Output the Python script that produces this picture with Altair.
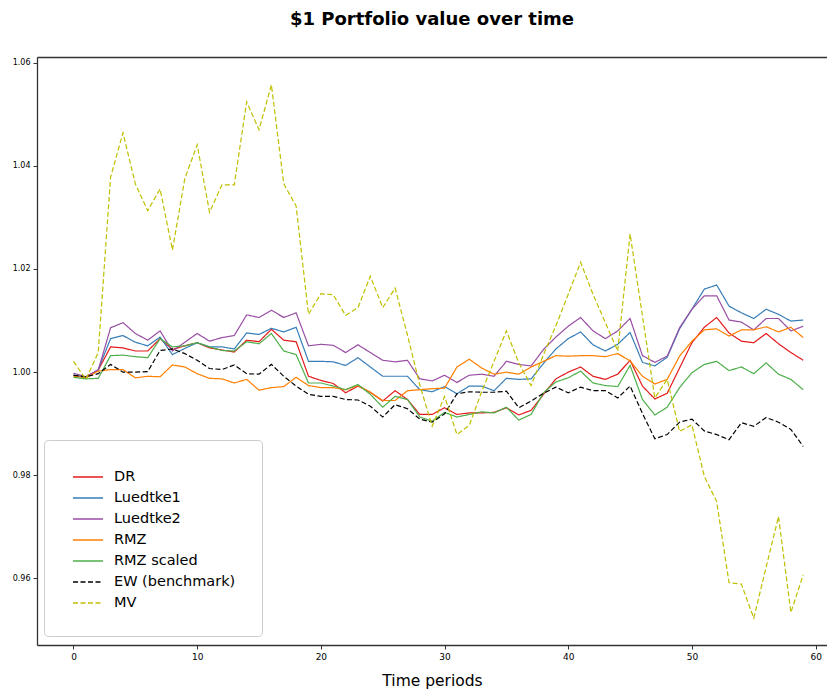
import altair as alt
import pandas as pd

t = list(range(60))

dr = [0.9994, 0.9991, 1.0004, 1.0049, 1.0047, 1.0041, 1.0041, 1.0065, 1.0044, 1.0051,
      1.0057, 1.0047, 1.0043, 1.0039, 1.0062, 1.0059, 1.0083, 1.0062, 1.0059, 0.9992,
      0.9984, 0.9978, 0.9960, 0.9973, 0.9961, 0.9944, 0.9964, 0.9947, 0.9918, 0.9918,
      0.9931, 0.9918, 0.9921, 0.9921, 0.9922, 0.9931, 0.9917, 0.9926, 0.9957, 0.9987,
      1.0000, 1.0010, 0.9992, 0.9986, 0.9996, 1.0023, 0.9973, 0.9948, 0.9959, 1.0008,
      1.0057, 1.0087, 1.0106, 1.0076, 1.0060, 1.0057, 1.0075, 1.0055, 1.0038, 1.0023]

luedtke1 = [0.9995, 0.9989, 1.0005, 1.0065, 1.0071, 1.0058, 1.0051, 1.0068, 1.0034, 1.0046,
            1.0057, 1.0049, 1.0049, 1.0045, 1.0076, 1.0073, 1.0085, 1.0078, 1.0087, 1.0021,
            1.0021, 1.0020, 1.0013, 1.0028, 1.0010, 0.9992, 0.9992, 0.9992, 0.9966, 0.9962,
            0.9972, 0.9958, 0.9973, 0.9973, 0.9964, 0.9988, 0.9986, 0.9987, 1.0017, 1.0045,
            1.0065, 1.0078, 1.0053, 1.0041, 1.0054, 1.0077, 1.0019, 1.0012, 1.0029, 1.0084,
            1.0122, 1.0161, 1.0169, 1.0128, 1.0115, 1.0104, 1.0122, 1.0112, 1.0099, 1.0101]

luedtke2 = [0.9998, 0.9991, 1.0004, 1.0086, 1.0096, 1.0075, 1.0062, 1.0080, 1.0041, 1.0058,
            1.0075, 1.0060, 1.0067, 1.0071, 1.0111, 1.0106, 1.0120, 1.0106, 1.0115, 1.0051,
            1.0054, 1.0052, 1.0038, 1.0053, 1.0038, 1.0023, 1.0020, 1.0023, 0.9987, 0.9983,
            0.9994, 0.9980, 0.9994, 0.9996, 0.9992, 1.0021, 1.0015, 1.0012, 1.0044, 1.0068,
            1.0089, 1.0106, 1.0080, 1.0065, 1.0080, 1.0104, 1.0032, 1.0019, 1.0031, 1.0086,
            1.0122, 1.0148, 1.0148, 1.0101, 1.0097, 1.0082, 1.0104, 1.0104, 1.0080, 1.0089]

rmz = [0.9992, 0.9989, 1.0002, 1.0005, 1.0005, 0.9989, 0.9992, 0.9991, 1.0014, 1.0010,
       0.9997, 0.9988, 0.9987, 0.9979, 0.9986, 0.9965, 0.9970, 0.9972, 0.9990, 0.9974,
       0.9970, 0.9970, 0.9966, 0.9974, 0.9961, 0.9945, 0.9945, 0.9964, 0.9966, 0.9968,
       0.9969, 1.0010, 1.0025, 1.0008, 0.9996, 1.0000, 0.9996, 1.0010, 1.0021, 1.0032,
       1.0031, 1.0032, 1.0032, 1.0030, 1.0036, 1.0022, 0.9992, 0.9977, 0.9986, 1.0031,
       1.0060, 1.0082, 1.0084, 1.0070, 1.0082, 1.0082, 1.0088, 1.0078, 1.0087, 1.0067]

rmz_scaled = [0.9990, 0.9987, 0.9988, 1.0032, 1.0033, 1.0030, 1.0028, 1.0065, 1.0049, 1.0051,
              1.0057, 1.0049, 1.0042, 1.0041, 1.0059, 1.0055, 1.0075, 1.0041, 1.0034, 0.9979,
              0.9979, 0.9973, 0.9966, 0.9976, 0.9957, 0.9932, 0.9953, 0.9947, 0.9913, 0.9905,
              0.9922, 0.9913, 0.9918, 0.9923, 0.9921, 0.9932, 0.9907, 0.9918, 0.9960, 0.9981,
              0.9989, 1.0002, 0.9979, 0.9974, 0.9972, 1.0013, 0.9947, 0.9917, 0.9932, 0.9970,
              0.9999, 1.0015, 1.0021, 1.0003, 1.0010, 0.9997, 1.0018, 0.9996, 0.9986, 0.9966]

ew = [0.9994, 0.9991, 0.9997, 1.0015, 1.0000, 1.0000, 1.0001, 1.0042, 1.0045, 1.0036,
      1.0023, 1.0007, 1.0005, 1.0014, 0.9997, 0.9996, 1.0015, 0.9992, 0.9973, 0.9957,
      0.9953, 0.9953, 0.9947, 0.9946, 0.9934, 0.9913, 0.9937, 0.9929, 0.9909, 0.9903,
      0.9919, 0.9958, 0.9962, 0.9961, 0.9961, 0.9963, 0.9931, 0.9944, 0.9959, 0.9971,
      0.9960, 0.9971, 0.9964, 0.9964, 0.9950, 0.9973, 0.9920, 0.9871, 0.9879, 0.9903,
      0.9909, 0.9886, 0.9879, 0.9869, 0.9902, 0.9895, 0.9912, 0.9903, 0.9889, 0.9856]

mv = [1.0021, 0.9986, 1.0038, 1.0378, 1.0464, 1.0365, 1.0313, 1.0355, 1.0237, 1.0375,
      1.0441, 1.0310, 1.0363, 1.0363, 1.0524, 1.0470, 1.0557, 1.0365, 1.0322, 1.0112,
      1.0152, 1.0150, 1.0110, 1.0125, 1.0186, 1.0125, 1.0163, 1.0072, 0.9975, 0.9895,
      0.9953, 0.9879, 0.9897, 0.9962, 1.0021, 1.0080, 1.0018, 0.9974, 1.0034, 1.0090,
      1.0151, 1.0213, 1.0151, 1.0096, 1.0041, 1.0268, 1.0109, 0.9950, 0.9986, 0.9885,
      0.9898, 0.9798, 0.9749, 0.9592, 0.9589, 0.9523, 0.9622, 0.9720, 0.9534, 0.9607]

series_names = ["DR", "Luedtke1", "Luedtke2", "RMZ", "RMZ scaled", "EW (benchmark)", "MV"]
series_values = [dr, luedtke1, luedtke2, rmz, rmz_scaled, ew, mv]
colors = ["#e41a1c", "#377eb8", "#984ea3", "#ff7f00", "#4daf4a", "#000000", "#bfbf00"]
dashes = [[1, 0], [1, 0], [1, 0], [1, 0], [1, 0], [5, 2.5], [5, 2.5]]
x_ticks = [0, 10, 20, 30, 40, 50, 60]
y_ticks = [0.96, 0.98, 1.00, 1.02, 1.04, 1.06]

rows = []
for k, (name, vals) in enumerate(zip(series_names, series_values)):
    for i, v in zip(t, vals):
        rows.append({"t": i, "value": v, "series": name, "k": k})
df = pd.DataFrame(rows)

x_scale = alt.Scale(domain=[-2.95, 60.92], nice=False, zero=False)
y_scale = alt.Scale(domain=[0.9471, 1.0611], nice=False, zero=False)

legend = alt.Legend(
    title=None, orient="none", legendX=7, legendY=383, padding=26,
    fillColor="white", strokeColor="#cccccc", cornerRadius=4,
    symbolType="M-1.5,0H1.5", symbolSize=400, symbolStrokeWidth=1.3,
    symbolOffset=7, labelOffset=15, labelFontSize=14.5, labelFont="DejaVu Sans",
    labelColor="black", rowPadding=3, labelLimit=300,
)

color = alt.Color("series:N", scale=alt.Scale(domain=series_names, range=colors),
                  sort=series_names, legend=legend)
dash = alt.StrokeDash("series:N", scale=alt.Scale(domain=series_names, range=dashes),
                      sort=series_names, legend=legend)

y_enc = alt.Y("value:Q", scale=y_scale,
              axis=alt.Axis(values=y_ticks, format=".2f", title=None, grid=False,
                            labelFontSize=8, tickSize=4, labelPadding=3))

lines = alt.Chart(df).mark_line(strokeWidth=1.2).encode(
    x=alt.X("t:Q", scale=x_scale,
            axis=alt.Axis(values=x_ticks, format="d", title="Time periods", grid=False,
                          labelFontSize=9, tickSize=4, labelPadding=3,
                          titleFontSize=15.5, titleFontWeight="normal", titlePadding=12)),
    y=y_enc,
    color=color,
    strokeDash=dash,
    order=alt.Order("k:Q"),
)

top = alt.Chart(df).mark_line(opacity=0).encode(
    x=alt.X("t:Q", scale=x_scale,
            axis=alt.Axis(orient="top", labels=False, ticks=False, title=None, grid=False)),
    y=y_enc,
    detail="series:N",
)

chart = alt.layer(lines, top).resolve_axis(x="independent").properties(
    width=790, height=588,
    padding={"left": 29, "top": 49, "right": 0, "bottom": 44},
    autosize=alt.AutoSizeParams(type="none"),
    title=alt.TitleParams("$1 Portfolio value over time", fontSize=18, fontWeight="bold",
                          font="DejaVu Sans", anchor="middle", offset=28, color="black"),
).configure_view(stroke=None).configure_axis(
    labelFont="DejaVu Sans", titleFont="DejaVu Sans", labelColor="black", titleColor="black",
    domainColor="#333333", domainWidth=1.3, tickColor="#333333", tickWidth=1,
)

chart.save("out.html", embed_options={"renderer": "svg", "actions": False})
